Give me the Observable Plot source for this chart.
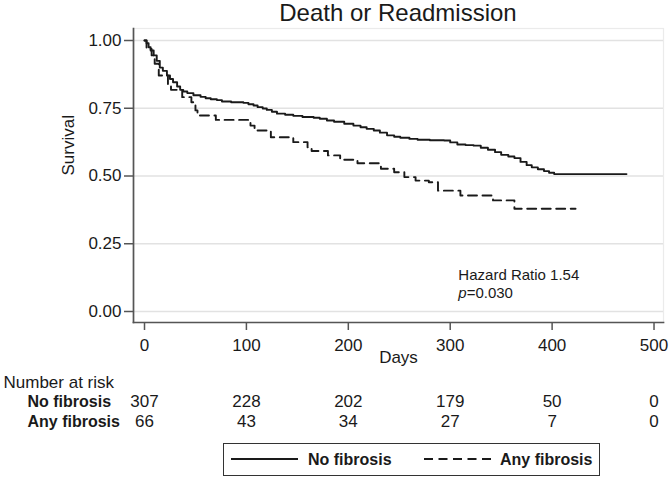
<!DOCTYPE html>
<html>
<head>
<meta charset="utf-8">
<script src="https://cdn.jsdelivr.net/npm/d3@7"></script>
<script src="https://cdn.jsdelivr.net/npm/@observablehq/plot@0.6"></script>
<style>
  html, body { margin: 0; padding: 0; background: #fff; }
  body { font-family: "Liberation Sans", Arial, sans-serif; color: #1a1a1a; }
  #wrap { position: relative; width: 670px; height: 479px; }
  #title { position: absolute; left: 133px; width: 530px; top: 0; height: 28px; line-height: 26px; text-align: center; font-size: 24px; }
  #chart { position: absolute; left: 0; top: 28px; }
  #legend { position: absolute; left: 223px; top: 443px; width: 375px; height: 31px; border: 1.3px solid #333; box-sizing: content-box; }
  .lg { position: absolute; top: 0; height: 31px; line-height: 31px; font-weight: 700; font-size: 16px; }
  .lgline { position: absolute; top: 10px; }
</style>
</head>
<body>
<div id="wrap">
  <div id="title">Death or Readmission</div>
  <div id="chart"></div>
  <div id="legend"></div>
</div>
<script>
// Kaplan-Meier step data
const noFibDays = [0, 2, 4, 6, 9, 12, 15, 18, 22, 25, 28, 32, 35, 38, 42, 48, 55, 60, 65, 71, 76, 85, 97, 102, 107, 111, 116, 120, 125, 130, 138, 146, 155, 166, 172, 179, 186, 196, 205, 212, 218, 225, 231, 238, 245, 251, 260, 268, 280, 294, 300, 307, 315, 323, 330, 337, 344, 350, 357, 363, 369, 375, 380, 386, 392, 397, 402, 473];
const noFibSurv = [1.000, 0.990, 0.975, 0.963, 0.945, 0.925, 0.900, 0.888, 0.871, 0.858, 0.846, 0.830, 0.818, 0.812, 0.806, 0.798, 0.792, 0.787, 0.783, 0.780, 0.775, 0.772, 0.770, 0.765, 0.760, 0.754, 0.749, 0.744, 0.737, 0.730, 0.726, 0.722, 0.718, 0.715, 0.711, 0.705, 0.700, 0.693, 0.686, 0.680, 0.674, 0.668, 0.660, 0.650, 0.645, 0.641, 0.637, 0.634, 0.632, 0.631, 0.624, 0.616, 0.614, 0.612, 0.604, 0.597, 0.588, 0.578, 0.572, 0.566, 0.552, 0.540, 0.532, 0.525, 0.518, 0.512, 0.507, 0.507];

const anyFibDays = [0, 2, 7, 10, 14, 23, 26, 37, 46, 50, 52, 70, 104, 108, 124, 146, 160, 164, 180, 192, 209, 232, 245, 255, 266, 279, 288, 310, 342, 363, 423];
const anyFibSurv = [1.000, 0.969, 0.945, 0.914, 0.871, 0.834, 0.818, 0.791, 0.772, 0.742, 0.723, 0.707, 0.686, 0.668, 0.643, 0.625, 0.606, 0.592, 0.576, 0.560, 0.547, 0.527, 0.514, 0.496, 0.483, 0.477, 0.446, 0.428, 0.410, 0.379, 0.379];

const groups = ["No fibrosis", "Any fibrosis"];
const riskDays = [0, 100, 200, 300, 400, 500];
const riskNoFib = [307, 228, 202, 179, 50, 0];
const riskAnyFib = [66, 43, 34, 27, 7, 0];
const xTicks = [0, 100, 200, 300, 400, 500];
const yTicks = [0, 0.25, 0.5, 0.75, 1];

const noFib = noFibDays.map((d, i) => ({day: d, surv: noFibSurv[i]}));
const anyFib = anyFibDays.map((d, i) => ({day: d, surv: anyFibSurv[i]}));
const riskRow1 = riskDays.map((d, i) => ({day: d, n: riskNoFib[i]}));
const riskRow2 = riskDays.map((d, i) => ({day: d, n: riskAnyFib[i]}));

const FONT = "'Liberation Sans', Arial, sans-serif";
const INK = "#1a1a1a";

const plot = Plot.plot({
  width: 670,
  height: 415,
  marginTop: 0,
  marginLeft: 133,
  marginRight: 7,
  marginBottom: 121,
  style: {fontFamily: FONT, fontSize: "17px", color: INK, background: "#fff", overflow: "visible"},
  x: {domain: [-10.8, 509.3]},
  y: {domain: [-0.0406, 1.0443]},
  marks: [
    Plot.frame({stroke: "#ebebeb", strokeWidth: 1.2}),
    Plot.gridY(yTicks, {stroke: "#e2e2e2", strokeOpacity: 1, strokeWidth: 1.3}),
    Plot.frame({anchor: "left", stroke: "#555", strokeWidth: 1.7}),
    Plot.frame({anchor: "bottom", stroke: "#555", strokeWidth: 1.7}),
    Plot.axisY(yTicks, {tickSize: 9, tickPadding: 3, tickFormat: d3.format(".2f"), label: null, stroke: "#555", strokeWidth: 1.5, fill: INK, fontSize: 17}),
    Plot.axisX(xTicks, {tickSize: 8, tickPadding: 8, label: null, stroke: "#555", strokeWidth: 1.5, fill: INK, fontSize: 17}),
    Plot.text(["Survival"], {frameAnchor: "left", dx: -65, rotate: -90, fontSize: 17, fill: INK}),
    Plot.text(["Days"], {frameAnchor: "bottom", dy: 40, fontSize: 17, fill: INK}),
    Plot.line(noFib, {x: "day", y: "surv", curve: "step-after", stroke: INK, strokeWidth: 1.9}),
    Plot.line(anyFib, {x: "day", y: "surv", curve: "step-after", stroke: INK, strokeWidth: 1.9, strokeDasharray: "9,5.5"}),
    Plot.text(["Hazard Ratio 1.54"], {x: 308, y: 0.133, textAnchor: "start", fontSize: 15, fill: INK}),
    Plot.text(["p"], {x: 308, y: 0.066, textAnchor: "start", fontSize: 15, fontStyle: "italic", fill: INK}),
    Plot.text(["=0.030"], {x: 308, y: 0.066, dx: 8.3, textAnchor: "start", fontSize: 15, fill: INK}),
    Plot.text(["Number at risk"], {frameAnchor: "bottom-left", dx: -130, dy: 65, textAnchor: "start", fontSize: 17, fill: INK}),
    Plot.text([groups[0]], {frameAnchor: "bottom-left", dx: -106, dy: 84, textAnchor: "start", fontSize: 16, fontWeight: 700, fill: INK}),
    Plot.text([groups[1]], {frameAnchor: "bottom-left", dx: -106, dy: 104, textAnchor: "start", fontSize: 16, fontWeight: 700, fill: INK}),
    Plot.text(riskRow1, {x: "day", text: "n", frameAnchor: "bottom", dy: 84, fontSize: 17, fill: INK}),
    Plot.text(riskRow2, {x: "day", text: "n", frameAnchor: "bottom", dy: 104, fontSize: 17, fill: INK})
  ]
});
document.getElementById("chart").appendChild(plot);

// Legend (HTML box below the SVG)
const legend = document.getElementById("legend");
function addLine(left, width, dashed) {
  const ns = "http://www.w3.org/2000/svg";
  const s = document.createElementNS(ns, "svg");
  s.setAttribute("width", width);
  s.setAttribute("height", 10);
  s.setAttribute("class", "lgline");
  s.style.left = left + "px";
  const l = document.createElementNS(ns, "line");
  l.setAttribute("x1", 0); l.setAttribute("x2", width);
  l.setAttribute("y1", 5); l.setAttribute("y2", 5);
  l.setAttribute("stroke", INK);
  l.setAttribute("stroke-width", 1.9);
  if (dashed) l.setAttribute("stroke-dasharray", "9,5.5");
  s.appendChild(l);
  legend.appendChild(s);
}
function addLabel(left, text) {
  const d = document.createElement("div");
  d.className = "lg";
  d.style.left = left + "px";
  d.textContent = text;
  legend.appendChild(d);
}
addLine(7, 67, false);
addLabel(84, groups[0]);
addLine(200, 69, true);
addLabel(276, groups[1]);
</script>
</body>
</html>
